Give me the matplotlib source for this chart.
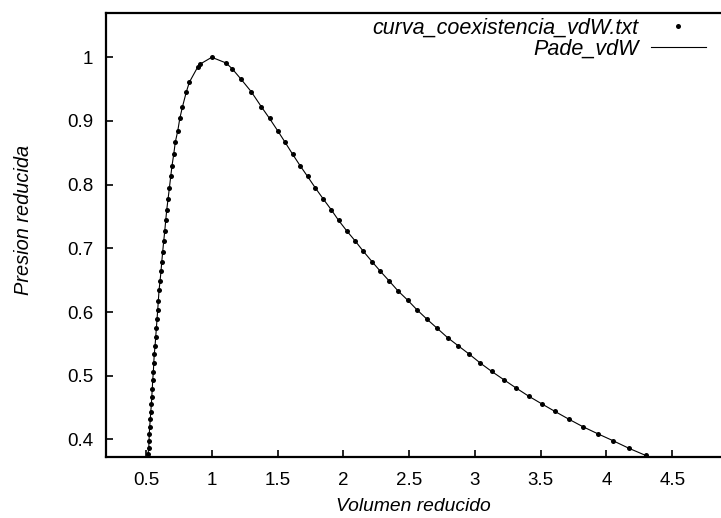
import numpy as np
import matplotlib
matplotlib.use('Agg')
import matplotlib.pyplot as plt

plt.rcParams['font.family'] = ['Liberation Sans', 'DejaVu Sans']

# rama liquida (volumen pequeño), de arriba hacia abajo
v_liq = [0.909, 0.894, 0.830, 0.807, 0.777, 0.757, 0.742, 0.723, 0.711, 0.698,
         0.688, 0.678, 0.668, 0.658, 0.650, 0.643, 0.635, 0.627, 0.620, 0.614,
         0.607, 0.599, 0.594, 0.589, 0.584, 0.579, 0.574, 0.569, 0.563, 0.559,
         0.556, 0.551, 0.548, 0.544, 0.541, 0.536, 0.533, 0.528, 0.525, 0.523,
         0.521, 0.515]
p_liq = [0.989, 0.985, 0.961, 0.946, 0.922, 0.904, 0.885, 0.867, 0.848, 0.830,
         0.813, 0.795, 0.778, 0.761, 0.744, 0.728, 0.712, 0.695, 0.679, 0.664,
         0.649, 0.634, 0.618, 0.603, 0.589, 0.575, 0.561, 0.547, 0.534, 0.520,
         0.506, 0.493, 0.480, 0.467, 0.455, 0.443, 0.432, 0.420, 0.408, 0.397,
         0.386, 0.377]

# rama vapor (volumen grande), desde el punto critico
v_vap = [1.000, 1.109, 1.155, 1.221, 1.300, 1.378, 1.439, 1.500, 1.556, 1.614,
         1.671, 1.728, 1.787, 1.846, 1.907, 1.964, 2.028, 2.089, 2.150, 2.219,
         2.282, 2.348, 2.417, 2.488, 2.558, 2.635, 2.711, 2.792, 2.874, 2.957,
         3.041, 3.127, 3.219, 3.312, 3.409, 3.508, 3.609, 3.713, 3.822, 3.934,
         4.051, 4.173, 4.298]
p_vap = [1.000, 0.991, 0.982, 0.966, 0.946, 0.922, 0.904, 0.885, 0.867, 0.848,
         0.830, 0.813, 0.795, 0.778, 0.761, 0.744, 0.727, 0.712, 0.696, 0.679,
         0.664, 0.649, 0.633, 0.619, 0.604, 0.589, 0.575, 0.560, 0.547, 0.534,
         0.520, 0.507, 0.494, 0.481, 0.468, 0.456, 0.444, 0.432, 0.420, 0.409,
         0.398, 0.386, 0.375]

x_ticks = [0.5, 1, 1.5, 2, 2.5, 3, 3.5, 4, 4.5]
y_ticks = [0.4, 0.5, 0.6, 0.7, 0.8, 0.9, 1]

v_all = np.concatenate([v_liq[::-1], v_vap])
p_all = np.concatenate([p_liq[::-1], p_vap])

fs = 13.5
fig = plt.figure(figsize=(7.21, 5.18), dpi=100)
ax = fig.add_axes([106 / 721, 61 / 518, 1 - 106 / 721, 444 / 518])

ax.plot(v_all, p_all, 'ko', ms=3.6, mew=0, label='curva_coexistencia_vdW.txt')
ax.plot(v_all, p_all, '-', color='black', lw=0.8, label='Pade_vdW')

ax.set_xlim(0.196, 4.871)
ax.set_ylim(0.3725, 1.0695)
ax.set_xticks(x_ticks)
ax.set_xticklabels([f'{t:g}' for t in x_ticks])
ax.set_yticks(y_ticks)
ax.set_yticklabels([f'{t:g}' for t in y_ticks])

for s in ['left', 'top', 'bottom']:
    ax.spines[s].set_linewidth(1.6)
ax.spines['right'].set_visible(False)
ax.tick_params(direction='in', length=5, width=1.2, labelsize=fs, pad=9)
ax.tick_params(axis='x', pad=11)

ax.set_xlabel('Volumen reducido', fontsize=fs * 1.03, style='italic', labelpad=6)
ax.set_ylabel('Presion reducida', fontsize=fs * 1.07, style='italic')
ax.yaxis.set_label_coords(-0.118, 0.534)

ax.legend(loc='upper right', bbox_to_anchor=(0.989, 1.009), frameon=False,
          markerfirst=False, prop={'style': 'italic', 'size': 15.5},
          handlelength=2.55, handletextpad=0.55, labelspacing=0.0,
          borderaxespad=0)

fig.savefig('out.png', dpi=100)
